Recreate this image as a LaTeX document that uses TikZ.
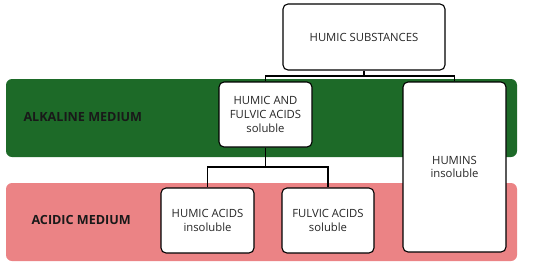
\documentclass[tikz,border=0pt]{standalone}
\usepackage{fontspec}
\setmainfont{Open Sans}
\definecolor{alkgreen}{RGB}{29,106,40}
\definecolor{acidpink}{RGB}{235,131,133}
\begin{document}
\begin{tikzpicture}[x=1pt,y=-1pt,
  box/.style={draw=black,line width=1.1pt,fill=white,rounded corners=5pt,align=center,font=\fontsize{11.3}{13.6}\selectfont,inner sep=0pt,text=black!85},
  band/.style={rounded corners=6pt},
  bandlabel/.style={font=\bfseries\fontsize{12.6}{14}\selectfont,anchor=west,text=black!90},
  link/.style={line width=1.1pt}]
\useasboundingbox (0,0) rectangle (550,266);
\fill[alkgreen,band] (6,79) rectangle (517,157);
\fill[acidpink,band] (6,183) rectangle (517,261);
\node[bandlabel] (alk) at (20,117) {ALKALINE MEDIUM};
\node[bandlabel] (acid) at (28,220) {ACIDIC MEDIUM};
\node[box,minimum width=162pt,minimum height=66pt] (hs) at (364,37) {HUMIC SUBSTANCES};
\node[box,minimum width=93pt,minimum height=65pt] (hafa) at (265.5,114.5) {HUMIC AND\\FULVIC ACIDS\\soluble};
\node[box,minimum width=103pt,minimum height=170pt] (hum) at (454.5,167) {HUMINS\\insoluble};
\node[box,minimum width=93pt,minimum height=65pt] (ha) at (207.5,220.5) {HUMIC ACIDS\\insoluble};
\node[box,minimum width=92pt,minimum height=65pt] (fa) at (328,220.5) {FULVIC ACIDS\\soluble};
\coordinate (j1) at (364,76);
\coordinate (j2) at (265.5,167);
\draw[link] (hs.south) -- (j1);
\draw[link] (j1) -| (hafa.north);
\draw[link] (j1) -| (hum.north);
\draw[link] (hafa.south) -- (j2);
\draw[link] (j2) -| (ha.north);
\draw[link] (j2) -| (fa.north);
\end{tikzpicture}
\end{document}
